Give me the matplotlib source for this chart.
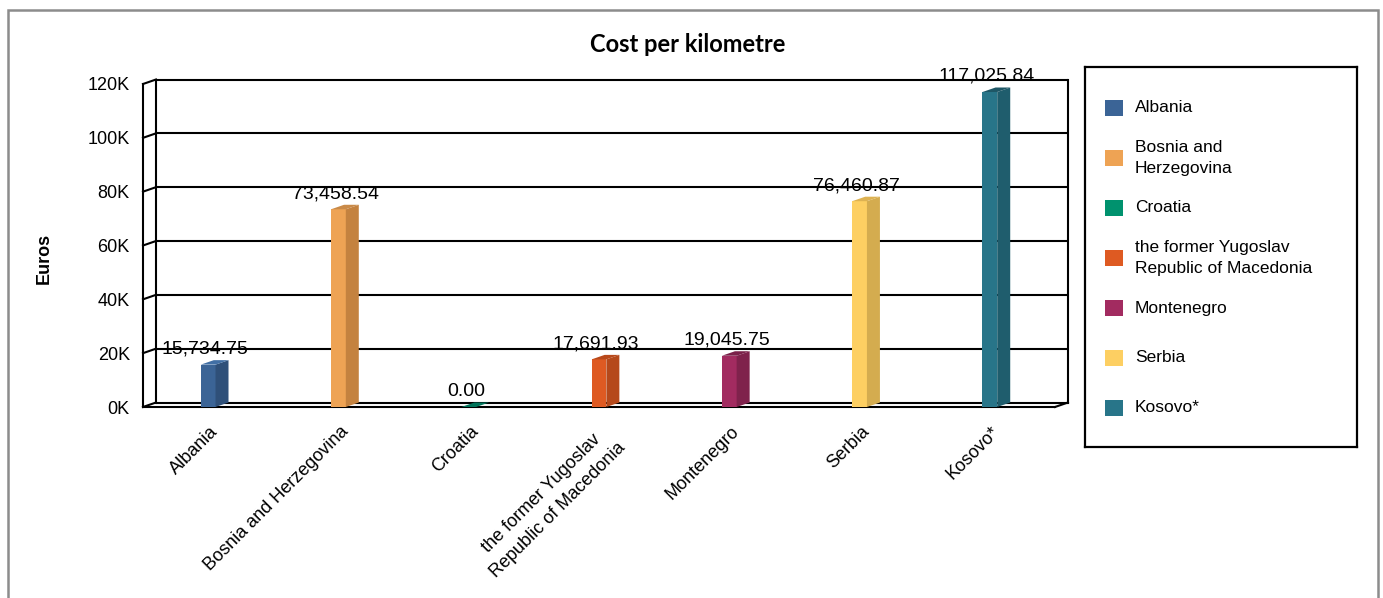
import numpy as np
import matplotlib
matplotlib.use("Agg")
import matplotlib.pyplot as plt
import matplotlib.transforms as mtransforms
from matplotlib.patches import Polygon, Rectangle
from matplotlib.ticker import FuncFormatter

# data
countries = ["Albania", "Bosnia and Herzegovina", "Croatia",
             "the former Yugoslav Republic of Macedonia", "Montenegro",
             "Serbia", "Kosovo*"]
axis_labels = ["Albania", "Bosnia and Herzegovina", "Croatia",
               "the former Yugoslav\nRepublic of Macedonia", "Montenegro",
               "Serbia", "Kosovo*"]
legend_labels = ["Albania", "Bosnia and\nHerzegovina", "Croatia",
                 "the former Yugoslav\nRepublic of Macedonia", "Montenegro",
                 "Serbia", "Kosovo*"]
cost_per_km = [15734.75, 73458.54, 0.00, 17691.93, 19045.75, 76460.87, 117025.84]
y_ticks = [0, 20000, 40000, 60000, 80000, 100000, 120000]

front_colors = ["#3B6496", "#EEA354", "#00926E", "#DE5A22", "#A22B60", "#FDCF62", "#287589"]
side_colors = ["#2F5079", "#C4823F", "#00745A", "#B5491B", "#7F224C", "#D4AC4F", "#1F5D6D"]
top_colors = ["#416FA5", "#C98A48", "#0B6A50", "#B8491B", "#7A2049", "#DDB252", "#1E5766"]

W, H, DPI = 1383, 598, 100
fig = plt.figure(figsize=(W / DPI, H / DPI), dpi=DPI)
fig.patch.set_facecolor("white")

# front plane of the pseudo 3D box (pixels from top-left)
left_px, right_px, top_px, bottom_px = 143, 1055, 84, 407
ax = fig.add_axes([left_px / W, 1 - bottom_px / H,
                   (right_px - left_px) / W, (bottom_px - top_px) / H])
n = len(cost_per_km)
x = np.arange(n)
ax.set_xlim(-0.5, n - 0.5)
ax.set_ylim(0, 120000)

# depth offset in data units
depth_px_x, depth_px_y = 13, 4.5
dxd = depth_px_x / (right_px - left_px) * n
dyd = depth_px_y / (bottom_px - top_px) * 120000

x0, x1 = -0.5, n - 0.5
lw = 1.5
# back wall gridlines and left diagonals
for v in y_ticks:
    ax.plot([x0 + dxd, x1 + dxd], [v + dyd, v + dyd], color="black", lw=lw,
            clip_on=False, zorder=1, solid_capstyle="butt")
    ax.plot([x0, x0 + dxd], [v, v + dyd], color="black", lw=lw, clip_on=False, zorder=1)
ax.plot([x0 + dxd, x0 + dxd], [dyd, y_ticks[-1] + dyd], color="black", lw=lw, clip_on=False, zorder=1)
ax.plot([x1 + dxd, x1 + dxd], [dyd, y_ticks[-1] + dyd], color="black", lw=lw, clip_on=False, zorder=1)
ax.plot([x1, x1 + dxd], [0, dyd], color="black", lw=lw, clip_on=False, zorder=1)

# bars
bw = 0.113
ax.bar(x, cost_per_km, width=bw, color=front_colors, zorder=3, clip_on=False)
for xi, v, sc, tc in zip(x, cost_per_km, side_colors, top_colors):
    xr = xi + bw / 2
    xl = xi - bw / 2
    if v > 0:
        ax.add_patch(Polygon([(xr, 0), (xr + dxd, dyd), (xr + dxd, v + dyd), (xr, v)],
                             closed=True, facecolor=sc, edgecolor="none", zorder=3, clip_on=False))
    ax.add_patch(Polygon([(xl, v), (xr, v), (xr + dxd, v + dyd), (xl + dxd, v + dyd)],
                         closed=True, facecolor=tc if v > 0 else sc, edgecolor="none",
                         zorder=3, clip_on=False))
    ax.annotate(f"{v:,.2f}", xy=(xi, v + dyd), xytext=(-2, 4.8), textcoords="offset points",
                ha="center", va="baseline", fontsize=14, family="Liberation Sans", zorder=5)

# frame
for s in ["top", "right"]:
    ax.spines[s].set_visible(False)
ax.spines["left"].set_linewidth(lw)
ax.spines["bottom"].set_linewidth(lw)
ax.spines["left"].set_zorder(2)
ax.spines["bottom"].set_zorder(2)
ax.patch.set_visible(False)

ax.set_yticks(y_ticks)
ax.yaxis.set_major_formatter(FuncFormatter(lambda v, p: f"{v / 1000:.0f}K"))
ax.tick_params(axis="y", length=0, pad=9.5, labelsize=13)
ax.set_xticks(x, labels=axis_labels, rotation=45, ha="right", va="top",
              rotation_mode="anchor")
ax.tick_params(axis="x", length=0, pad=11.5, labelsize=13)
shift = mtransforms.ScaledTranslation(1 / DPI, 0, fig.dpi_scale_trans)
for lab in ax.get_xticklabels():
    lab.set_transform(lab.get_transform() + shift)
    lab.set_multialignment("center")
    lab.set_linespacing(1.5)
for lab in ax.get_xticklabels() + ax.get_yticklabels():
    lab.set_family("Liberation Sans")

fig.text(688 / W, 1 - 44 / H, "Cost per kilometre", ha="center", va="center",
         fontsize=17, fontweight="bold", family="Lato")
fig.text(44 / W, 1 - 258 / H, "Euros", ha="center", va="center", rotation=90,
         fontsize=13, fontweight="bold", family="Liberation Sans")

# legend box
lx0, ly0, lx1, ly1 = 1085, 67, 1357, 447
lax = fig.add_axes([lx0 / W, 1 - ly1 / H, (lx1 - lx0) / W, (ly1 - ly0) / H])
lax.set_xlim(0, lx1 - lx0)
lax.set_ylim(ly1 - ly0, 0)
lax.set_xticks([])
lax.set_yticks([])
for s in lax.spines.values():
    s.set_linewidth(1.6)
for i, (lbl, c) in enumerate(zip(legend_labels, front_colors)):
    yc = 41 + 50 * i
    lax.add_patch(Rectangle((20, yc - 8), 18, 16, facecolor=c, edgecolor="none"))
    lax.text(50, yc, lbl, ha="left", va="center", fontsize=12.5,
             family="Liberation Sans", linespacing=1.45)

# outer border
fig.patches.append(Rectangle((8 / W, -5 / H), (1378 - 8) / W, (598 - 10 + 5) / H,
                             transform=fig.transFigure, fill=False,
                             edgecolor="#8c8c8c", lw=1.8))

fig.savefig("out.png", dpi=DPI)
